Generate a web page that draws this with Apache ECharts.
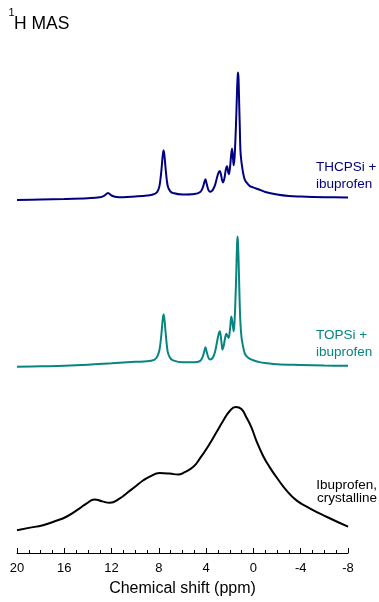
<!DOCTYPE html>
<html>
<head>
<meta charset="utf-8">
<title>1H MAS</title>
<script src="https://cdn.jsdelivr.net/npm/echarts@6/dist/echarts.min.js"></script>
<style>
  html, body { margin: 0; padding: 0; background: #fff; }
  #chart { width: 379px; height: 602px; }
</style>
</head>
<body>
<div id="chart"></div>
<script>
// chemical shift (ppm) / intensity pairs
var thcpsi = [[20,0],[18,0.5],[16,1],[14,1.8],[13,2.7],[12.6,4.5],[12.3,7],[12.0,4.5],[11.6,3],[11,2.7],[10,3.5],[9,4.5],[8.5,5.5],
  [8.15,8],[7.95,14],[7.8,28],[7.68,44],[7.6,50],[7.52,44],[7.4,28],[7.25,14],[7.05,9],[6.8,7],[6,5.5],[5,6],[4.5,8],
  [4.3,12],[4.15,18],[4.06,21],[3.95,16],[3.8,10],[3.65,8.3],[3.45,10],[3.25,15],[3.05,24],[2.93,28],[2.85,29.3],[2.75,26],
  [2.65,20],[2.57,17.7],[2.45,22],[2.33,31],[2.23,34],[2.15,29],[2.07,26],[1.97,34],[1.88,46],[1.81,51.7],[1.74,44],[1.67,35],
  [1.6,42],[1.52,62],[1.45,85],[1.38,112],[1.33,125],[1.3,128.3],[1.26,122],[1.2,95],[1.15,72],[1.1,50],[1.03,40],[0.95,33],
  [0.88,27.7],[0.75,21],[0.59,17.7],[0.3,14],[0.03,12.7],[-0.53,10.3],[-1,8],[-2,5.5],[-3,4],[-4,3.5],[-6,2.8],[-8,2.5]];
var topsi = [[20,0],[18,0.5],[16,1],[14,2],[12,3.5],[10,5],[9,5.5],[8.4,7],[8.15,10],[7.95,17],[7.8,31],[7.68,47],[7.6,53],
  [7.52,47],[7.4,31],[7.25,15],[7.05,9],[6.8,6.5],[6,4.5],[5,4.5],[4.5,6],[4.3,10],[4.15,16],[4.06,19.7],[3.95,15],[3.8,9],
  [3.65,7.3],[3.45,9],[3.25,15],[3.05,27],[2.93,33.5],[2.85,35.7],[2.75,30],[2.68,22],[2.62,17.3],[2.5,22],[2.38,30],[2.29,33.3],
  [2.2,31],[2.1,29],[1.98,38],[1.87,50.7],[1.77,44],[1.67,35.7],[1.6,45],[1.52,68],[1.45,95],[1.39,122],[1.35,131.3],[1.31,126],
  [1.25,105],[1.18,72],[1.1,44],[1.0,29],[0.88,20.7],[0.75,14],[0.59,10.7],[0.3,8],[0.03,6.7],[-0.53,4.7],[-1,3.8],[-2,2.5],
  [-4,1.8],[-6,1.2],[-8,1]];
var crystalline = [[20,0],[19,2.3],[17.8,5],[16.8,9],[15.82,13.5],[14.7,22],[14.13,26.8],[13.43,31],[12.8,29],[12.16,27.5],
  [11.3,32],[10.74,37],[10.04,43.5],[9.34,50],[8.77,54],[7.93,57.5],[7.08,57],[6.38,56],[5.81,58.5],[5.11,63.5],[4.54,72],
  [3.7,87],[3.13,98.5],[2.57,110],[2.0,120],[1.5,124],[1.02,122],[0.59,113.5],[0.17,103.5],[-0.25,90],[-0.81,75],[-1.37,63.5],
  [-1.94,53.5],[-2.79,40],[-3.64,30],[-4.76,22],[-6.18,13.5],[-8,3.5]];

var spectra = [thcpsi, topsi, crystalline];
var offsets = [355.5, 187.5, 23];   // vertical stacking of the three traces
var colors = ['#000080', '#078580', '#000000'];
var smoothing = [0.35, 0.35, 0.5];
var labels = [['THCPSi +', 'ibuprofen'], ['TOPSi +', 'ibuprofen'], ['Ibuprofen,', 'crystalline']];

var font = 'Liberation Sans, Arial, Helvetica, sans-serif';
var myChart = echarts.init(document.getElementById('chart'));

var series = spectra.map(function (s, i) {
  return {
    type: 'line',
    data: s.map(function (p) { return [p[0], p[1] + offsets[i]]; }),
    showSymbol: false,
    smooth: smoothing[i],
    lineStyle: { color: colors[i], width: 2 },
    silent: true
  };
});

function label(x, y, txt, color, align) {
  return { type: 'text', x: x, y: y, style: { text: txt, font: '13.5px ' + font, fill: color,
    textAlign: align || 'left', textVerticalAlign: 'middle' } };
}

option = {
  backgroundColor: '#fff',
  animation: false,
  grid: { left: 17, right: 31, top: 56.5, bottom: 45.5 },
  xAxis: {
    type: 'value',
    min: -8,
    max: 20,
    interval: 4,
    inverse: true,
    name: 'Chemical shift (ppm)',
    nameLocation: 'middle',
    nameGap: 28,
    nameTextStyle: { color: '#000', fontSize: 16, fontFamily: font },
    axisLine: { lineStyle: { color: '#000', width: 1 } },
    axisTick: { inside: true, length: 5, lineStyle: { color: '#000' } },
    minorTick: { show: true, splitNumber: 4, length: 3, lineStyle: { color: '#000' } },
    axisLabel: { color: '#000', fontSize: 13, margin: 9, fontFamily: font },
    splitLine: { show: false }
  },
  yAxis: { type: 'value', min: 0, max: 500, show: false },
  graphic: [
    { type: 'text', x: 8.5, y: 12.5, style: { text: '1', font: '11px ' + font, fill: '#000', textVerticalAlign: 'middle' } },
    { type: 'text', x: 14, y: 24, style: { text: 'H MAS', font: '17.5px ' + font, fill: '#000', textVerticalAlign: 'middle' } },
    label(316, 167.5, labels[0][0], colors[0]),
    label(316, 184.5, labels[0][1], colors[0]),
    label(316, 335, labels[1][0], colors[1]),
    label(316, 352, labels[1][1], colors[1]),
    label(377, 485, labels[2][0], colors[2], 'right'),
    label(377, 498.5, labels[2][1], colors[2], 'right')
  ],
  series: series
};
myChart.setOption(option);
</script>
</body>
</html>
